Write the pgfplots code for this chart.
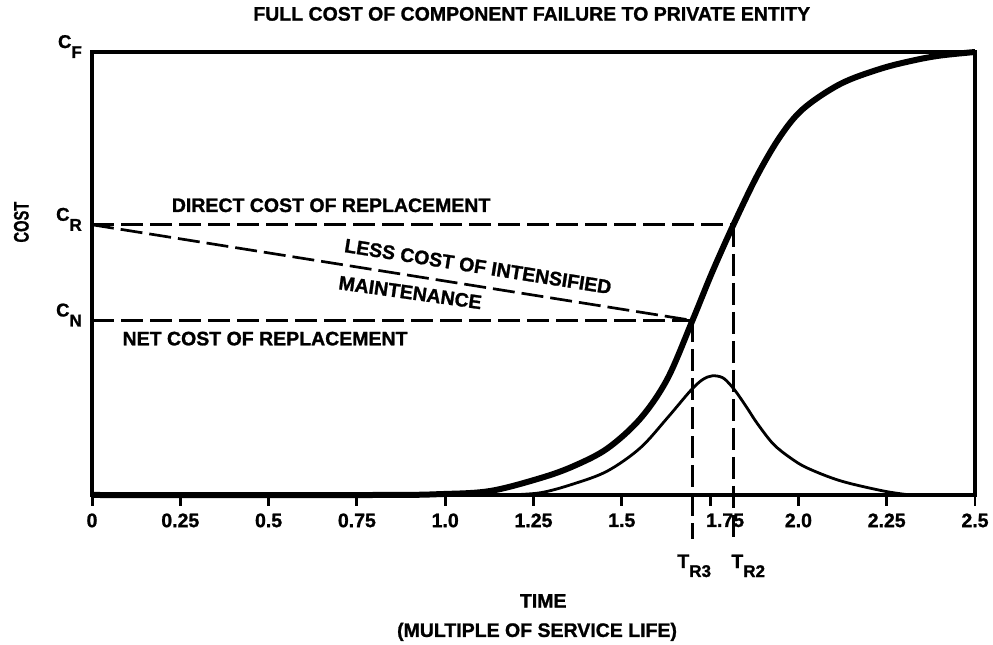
\documentclass[border=0pt]{standalone}
\usepackage{fontspec}
\setmainfont{Liberation Sans}[BoldFeatures={FakeBold=1.2}]
\usepackage{pgfplots}
\pgfplotsset{compat=1.18}
\newcommand\sub[2][-9pt]{\raisebox{#1}{\fontsize{17}{17}\selectfont #2}}
\newcommand\fs[1]{\fontsize{#1}{#1}\selectfont\bfseries}
\begin{document}
\begin{tikzpicture}
\begin{axis}[
  scale only axis, width=883pt, height=443pt,
  xmin=0, xmax=2.5, ymin=0, ymax=1,
  clip=false,
  axis line style={line width=4.5pt},
  xtick={0,0.25,0.5,0.75,1,1.25,1.5,1.75,2,2.25,2.5},
  xticklabels={0,0.25,0.5,0.75,1.0,1.25,1.5,\hspace*{30pt}1.75,2.0,2.25,2.5},
  xtick pos=bottom, tick align=outside,
  major tick length=11pt,
  xtick style={line width=3pt, black},
  xticklabel style={font=\fs{19.5}, yshift=-4pt},
  ytick={0.394,0.61,1},
  yticklabels={C\sub[-10pt]{N},C\sub[-10pt]{R},C\sub[-10pt]{F}},
  ytick style={draw=none},
  yticklabel style={font=\fs{18.5}, anchor=base east, inner sep=0pt, xshift=1pt, yshift=4pt},
  /pgf/number format/assume math mode=true,
]
\coordinate (bbsw) at (rel axis cs:-0.1042,-0.3386);
\coordinate (bbne) at (rel axis cs:1.0204,1.1174);

% thick cumulative cost curve
\addplot[line width=6pt, smooth, tension=0.55, line join=round] coordinates {
(0,0) (0.8,0) (0.986,0.002) (1.127,0.009) (1.269,0.038) (1.363,0.065) (1.459,0.105)
(1.552,0.172) (1.629,0.262) (1.700,0.394) (1.756,0.503) (1.816,0.61)
(1.884,0.722) (1.949,0.810) (2.014,0.872) (2.119,0.928) (2.232,0.962) (2.326,0.981)
(2.402,0.992) (2.5,1.0)};

% thin bell curve
\addplot[line width=2.8pt, smooth, tension=0.55] coordinates {
(1.17,0) (1.269,0.005) (1.363,0.025) (1.459,0.054) (1.552,0.106) (1.629,0.174)
(1.694,0.235) (1.728,0.260) (1.756,0.269) (1.785,0.265) (1.807,0.249) (1.827,0.229)
(1.856,0.195) (1.884,0.161) (1.929,0.115) (1.977,0.084) (2.025,0.061) (2.119,0.032)
(2.241,0.009) (2.317,0)};

% dashed construction lines
\pgfplotsset{dl/.style={line width=2.7pt, dash pattern=on 22pt off 7pt}}
\addplot[dl] coordinates {(0,0.61) (1.816,0.61)};
\addplot[dl] coordinates {(0,0.394) (1.70,0.394)};
\addplot[dl] coordinates {(0,0.61) (1.70,0.394)};
\addplot[dl] coordinates {(1.70,0.394) (1.70,-0.1)};
\addplot[dl] coordinates {(1.816,0.61) (1.816,-0.1)};

\node[font=\fs{19.5}] at (axis cs:0.677,0.654) {DIRECT COST OF REPLACEMENT};
\node[font=\fs{19.5}, rotate=-9] at (axis cs:1.093,0.516) {LESS COST OF INTENSIFIED};
\node[font=\fs{19.5}, rotate=-8] at (axis cs:0.901,0.457) {MAINTENANCE};
\node[font=\fs{19.5}] at (axis cs:0.49,0.353) {NET COST OF REPLACEMENT};
\node[font=\fs{19.5}] at (axis cs:1.705,-0.16) {T\sub{R3}};
\node[font=\fs{19.5}] at (axis cs:1.858,-0.16) {T\sub{R2}};

\node[font=\fs{19.5}] at (rel axis cs:0.498,1.086) {FULL COST OF COMPONENT FAILURE TO PRIVATE ENTITY};
\node[font=\fs{19.5}] at (rel axis cs:0.511,-0.239) {TIME};
\node[font=\fs{19.5}] at (rel axis cs:0.504,-0.309) {(MULTIPLE OF SERVICE LIFE)};
\node[font=\fs{21}, rotate=90] at (rel axis cs:-0.080,0.616) {\scalebox{0.7}[1]{COST}};
\end{axis}
\pgfresetboundingbox
\path[use as bounding box] (bbsw) rectangle (bbne);
\end{tikzpicture}
\end{document}
